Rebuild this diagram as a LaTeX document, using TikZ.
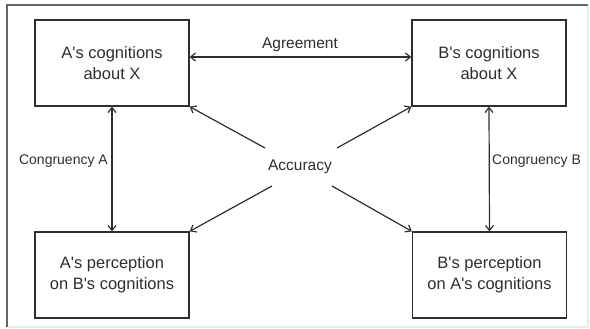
\documentclass[tikz,border=0pt]{standalone}
\usepackage{fontspec}
\setmainfont{Liberation Sans}
\usetikzlibrary{arrows.meta}
\definecolor{framegrey}{HTML}{5E6A6A}
\definecolor{framelight}{HTML}{D8F0F0}
\definecolor{ink}{HTML}{2E2E2E}
\newcommand{\ap}{\textquotesingle}
\begin{document}
\begin{tikzpicture}[x=1pt,y=-1pt,
  box/.style={draw=ink,line width=1.3pt,minimum width=154pt,minimum height=86pt,inner sep=0pt,align=center,
    font=\fontsize{16.5}{21}\selectfont,text=ink},
  lab/.style={font=\fontsize{15.5}{18}\selectfont,text=ink,inner sep=0pt},
  clab/.style={font=\fontsize{14}{17}\selectfont,text=ink,inner sep=0pt},
  conn/.style={draw=ink,line width=1.2pt,{Straight Barb[length=5pt,width=8pt]}-{Straight Barb[length=5pt,width=8pt]}},
  conn1/.style={draw=ink,line width=1.2pt,-{Straight Barb[length=5pt,width=8pt]}}]
\useasboundingbox (0,0) rectangle (590,329);
\draw[framelight,line width=1.2pt] (588,5) -- (588,327) -- (7,327);
\draw[framegrey,line width=1.3pt] (7,327) -- (7,5) -- (588,5);
\node[box] (at) at (112,63) {A\ap s cognitions\\about X};
\node[box] (bt) at (489,63) {B\ap s cognitions\\about X};
\node[box] (ab) at (112,275) {A\ap s perception\\on B\ap s cognitions};
\node[box] (bb) at (489.5,275) {B\ap s perception\\on A\ap s cognitions};
\node[lab] (agr) at (300,45) {Agreement};
\node[lab] (acc) at (300,167) {Accuracy};
\node[clab,anchor=east] (ca) at (108,161) {Congruency A};
\node[clab,anchor=west] (cb) at (492,161) {Congruency B};
\coordinate (p1) at (265,148);
\coordinate (p2) at (337,148);
\coordinate (p3) at (272,186);
\coordinate (p4) at (332,186);
\draw[conn] (at.east |- 0,57) -- (bt.west |- 0,57);
\draw[conn] (at.south) -- (ab.north);
\draw[conn] (bt.south) -- (bb.north);
\draw[conn1] (p1) -- (at.south east);
\draw[conn1] (p2) -- (bt.south west);
\draw[conn1] (p3) -- (ab.north east);
\draw[conn1] (p4) -- (bb.north west);
\end{tikzpicture}
\end{document}
